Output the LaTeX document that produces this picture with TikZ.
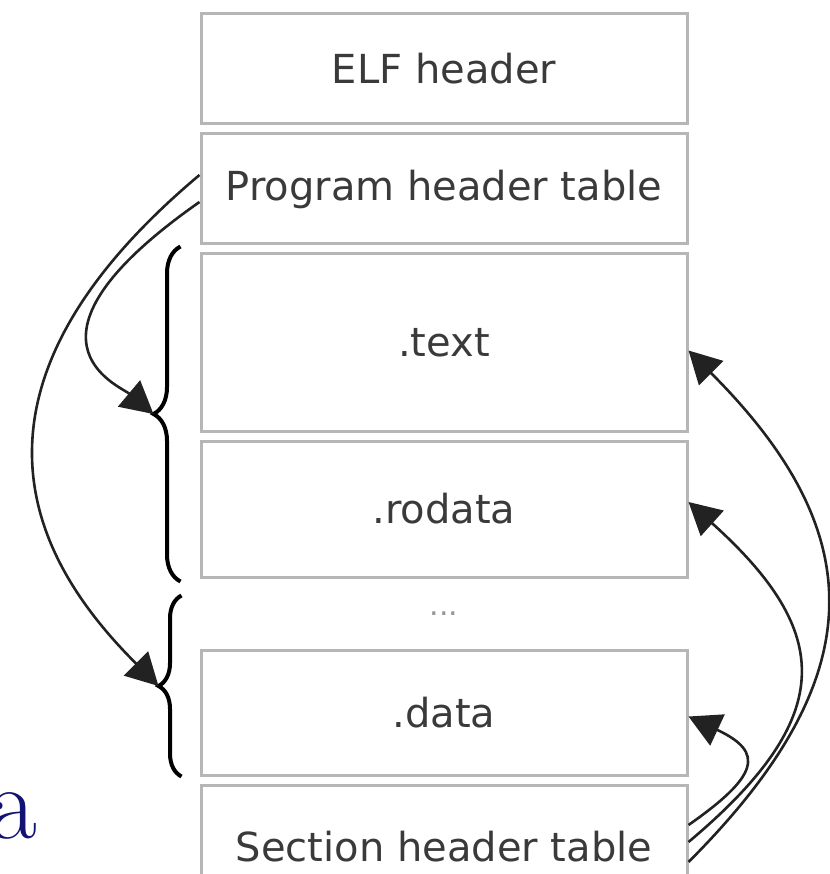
\documentclass[tikz,border=0pt]{standalone}
\usepackage{fontspec}
\usepackage{tikz}
\usetikzlibrary{positioning,arrows.meta,calc,decorations.pathreplacing}
\newfontfamily\sectfont{DejaVu Sans}
\definecolor{boxgray}{RGB}{182,182,182}
\definecolor{labelgray}{RGB}{58,58,58}
\definecolor{linkgray}{RGB}{34,34,34}
\definecolor{dotgray}{RGB}{150,150,150}
\definecolor{titlenavy}{RGB}{18,18,115}
\tikzset{
  sect/.style  ={rectangle, draw=boxgray, line width=3pt, minimum width=486pt, inner sep=0pt,
                 font=\sectfont\fontsize{40}{48}\selectfont, text=labelgray},
  link/.style  ={-{Triangle[length=32pt,width=34pt]}, line width=2.6pt, draw=linkgray},
  curly/.style ={decorate, decoration={brace, amplitude=#1}, line width=4pt},
}

\begin{document}
\begin{tikzpicture}[x=1pt, y=-1pt]
\useasboundingbox (0,0) rectangle (829,874);

% the file, top to bottom
\node[sect, minimum height=110pt] (elf) at (444,69) {ELF header};
\node[sect, minimum height=110pt, below=7pt of elf] (pht) {Program header table};
\node[sect, minimum height=177pt, below=7pt of pht] (txt) {.text};
\node[sect, minimum height=136pt, below=7pt of txt] (rodata) {.rodata};
\node[sect, minimum height=125pt, below=70pt of rodata] (data) {.data};
\node[sect, minimum height=124pt, below=7pt of data] (sht) {Section header table};
\node[font=\sectfont\fontsize{30}{30}\selectfont, text=dotgray, inner sep=0pt]
  (more) at ($(rodata.south)!.5!(data.north)$) {...};

% segments
\draw[curly=27pt] ([xshift=-19pt,yshift=-3pt]rodata.south west)
  -- coordinate[midway, xshift=-27pt] (tipup) ([xshift=-19pt,yshift=6pt]txt.north west);
\draw[curly=23pt] ([xshift=-18pt]data.south west)
  -- coordinate[midway, xshift=-23pt] (tiplow) ([xshift=-18pt,yshift=-17pt]rodata.south west);

% program headers point at segments
\draw[link] ([yshift=14pt]pht.west) to[out=220, in=135, out distance=356pt, in distance=155pt] (tiplow);
\draw[link] ([yshift=-13pt]pht.west) to[out=215, in=140, out distance=241pt, in distance=44pt] (tipup);

% section headers point at sections
\draw[link] ([yshift=-15pt]sht.east) to[out=45, in=-45, out distance=260pt, in distance=260pt] ([yshift=-8pt]txt.east);
\draw[link] ([yshift=5pt]sht.east) to[out=40, in=-42, out distance=195pt, in distance=195pt] ([yshift=7pt]rodata.east);
\draw[link] ([yshift=22pt]sht.east) to[out=35, in=-25, out distance=85pt, in distance=85pt] ([yshift=-4pt]data.east);

\node[font=\fontsize{104}{104}\selectfont, text=titlenavy, anchor=base east, inner sep=0pt] (cut) at (37,838) {a};
\end{tikzpicture}
\end{document}
